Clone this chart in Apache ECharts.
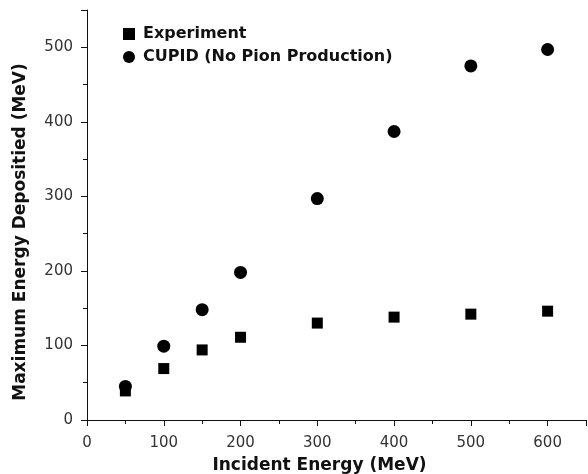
<!DOCTYPE html>
<html>
<head>
<meta charset="utf-8">
<script src="https://cdn.jsdelivr.net/npm/echarts@6/dist/echarts.min.js"></script>
<style>
  html, body { margin: 0; padding: 0; background: #fff; }
  #chart { width: 588px; height: 474px; }
</style>
</head>
<body>
<div id="chart"></div>
<script>
// incident energy (MeV)
const energies = [50, 100, 150, 200, 300, 400, 500, 600]
const experiment = [39, 69, 94, 111, 130, 138, 142, 146]
const cupid = [45, 99, 148, 198, 297, 387, 475, 497]

const font = 'DejaVu Sans, sans-serif'

const chart = echarts.init(document.getElementById('chart'))

chart.setOption({
  animation: false,
  grid: {
    left: 87,
    top: 10,
    right: 2,
    bottom: 54,
    outerBoundsMode: 'none'
  },
  legend: {
    orient: 'vertical',
    left: 123,
    top: 26,
    padding: 0,
    itemGap: 7,
    itemWidth: 12,
    itemHeight: 12,
    textStyle: { fontFamily: font, fontSize: 16, fontWeight: 'bold', color: '#111', padding: [0, 0, 0, 3] },
    data: [
      { name: 'Experiment', icon: 'rect' },
      { name: 'CUPID (No Pion Production)', icon: 'circle' }
    ]
  },
  xAxis: {
    type: 'value',
    min: 0,
    max: 650,
    interval: 100,
    name: 'Incident Energy (MeV)',
    nameLocation: 'middle',
    nameGap: 37,
    // title sits a bit left of the axis centre
    nameTextStyle: { fontFamily: font, fontSize: 17, fontWeight: 'bold', color: '#111', padding: [0, 34, 0, 0] },
    axisLine: { lineStyle: { color: '#111', width: 1 } },
    axisTick: { inside: false, length: 6, lineStyle: { color: '#111' } },
    minorTick: { show: true, splitNumber: 2, length: 4, lineStyle: { color: '#111' } },
    axisLabel: {
      margin: 16, fontFamily: font, fontSize: 15, color: '#333',
      showMaxLabel: false
    },
    splitLine: { show: false }
  },
  yAxis: {
    type: 'value',
    min: 0,
    max: 550,
    interval: 100,
    name: 'Maximum Energy Depositied (MeV)',
    nameLocation: 'middle',
    nameGap: 58,
    nameTextStyle: { fontFamily: font, fontSize: 17, fontWeight: 'bold', color: '#111', padding: [0, 34, 0, 0] },
    axisLine: { show: true, lineStyle: { color: '#111', width: 1 } },
    axisTick: { show: true, inside: false, length: 6, lineStyle: { color: '#111' } },
    minorTick: { show: true, splitNumber: 2, length: 4, lineStyle: { color: '#111' } },
    axisLabel: {
      margin: 14, fontFamily: font, fontSize: 15, color: '#333',
      showMaxLabel: false
    },
    splitLine: { show: false }
  },
  series: [
    {
      name: 'Experiment',
      type: 'scatter',
      symbol: 'rect',
      symbolSize: 11,
      itemStyle: { color: '#000', opacity: 1 },
      data: energies.map((e, i) => [e, experiment[i]])
    },
    {
      name: 'CUPID (No Pion Production)',
      type: 'scatter',
      symbol: 'circle',
      symbolSize: 13,
      itemStyle: { color: '#000', opacity: 1 },
      data: energies.map((e, i) => [e, cupid[i]])
    }
  ]
})
</script>
</body>
</html>
